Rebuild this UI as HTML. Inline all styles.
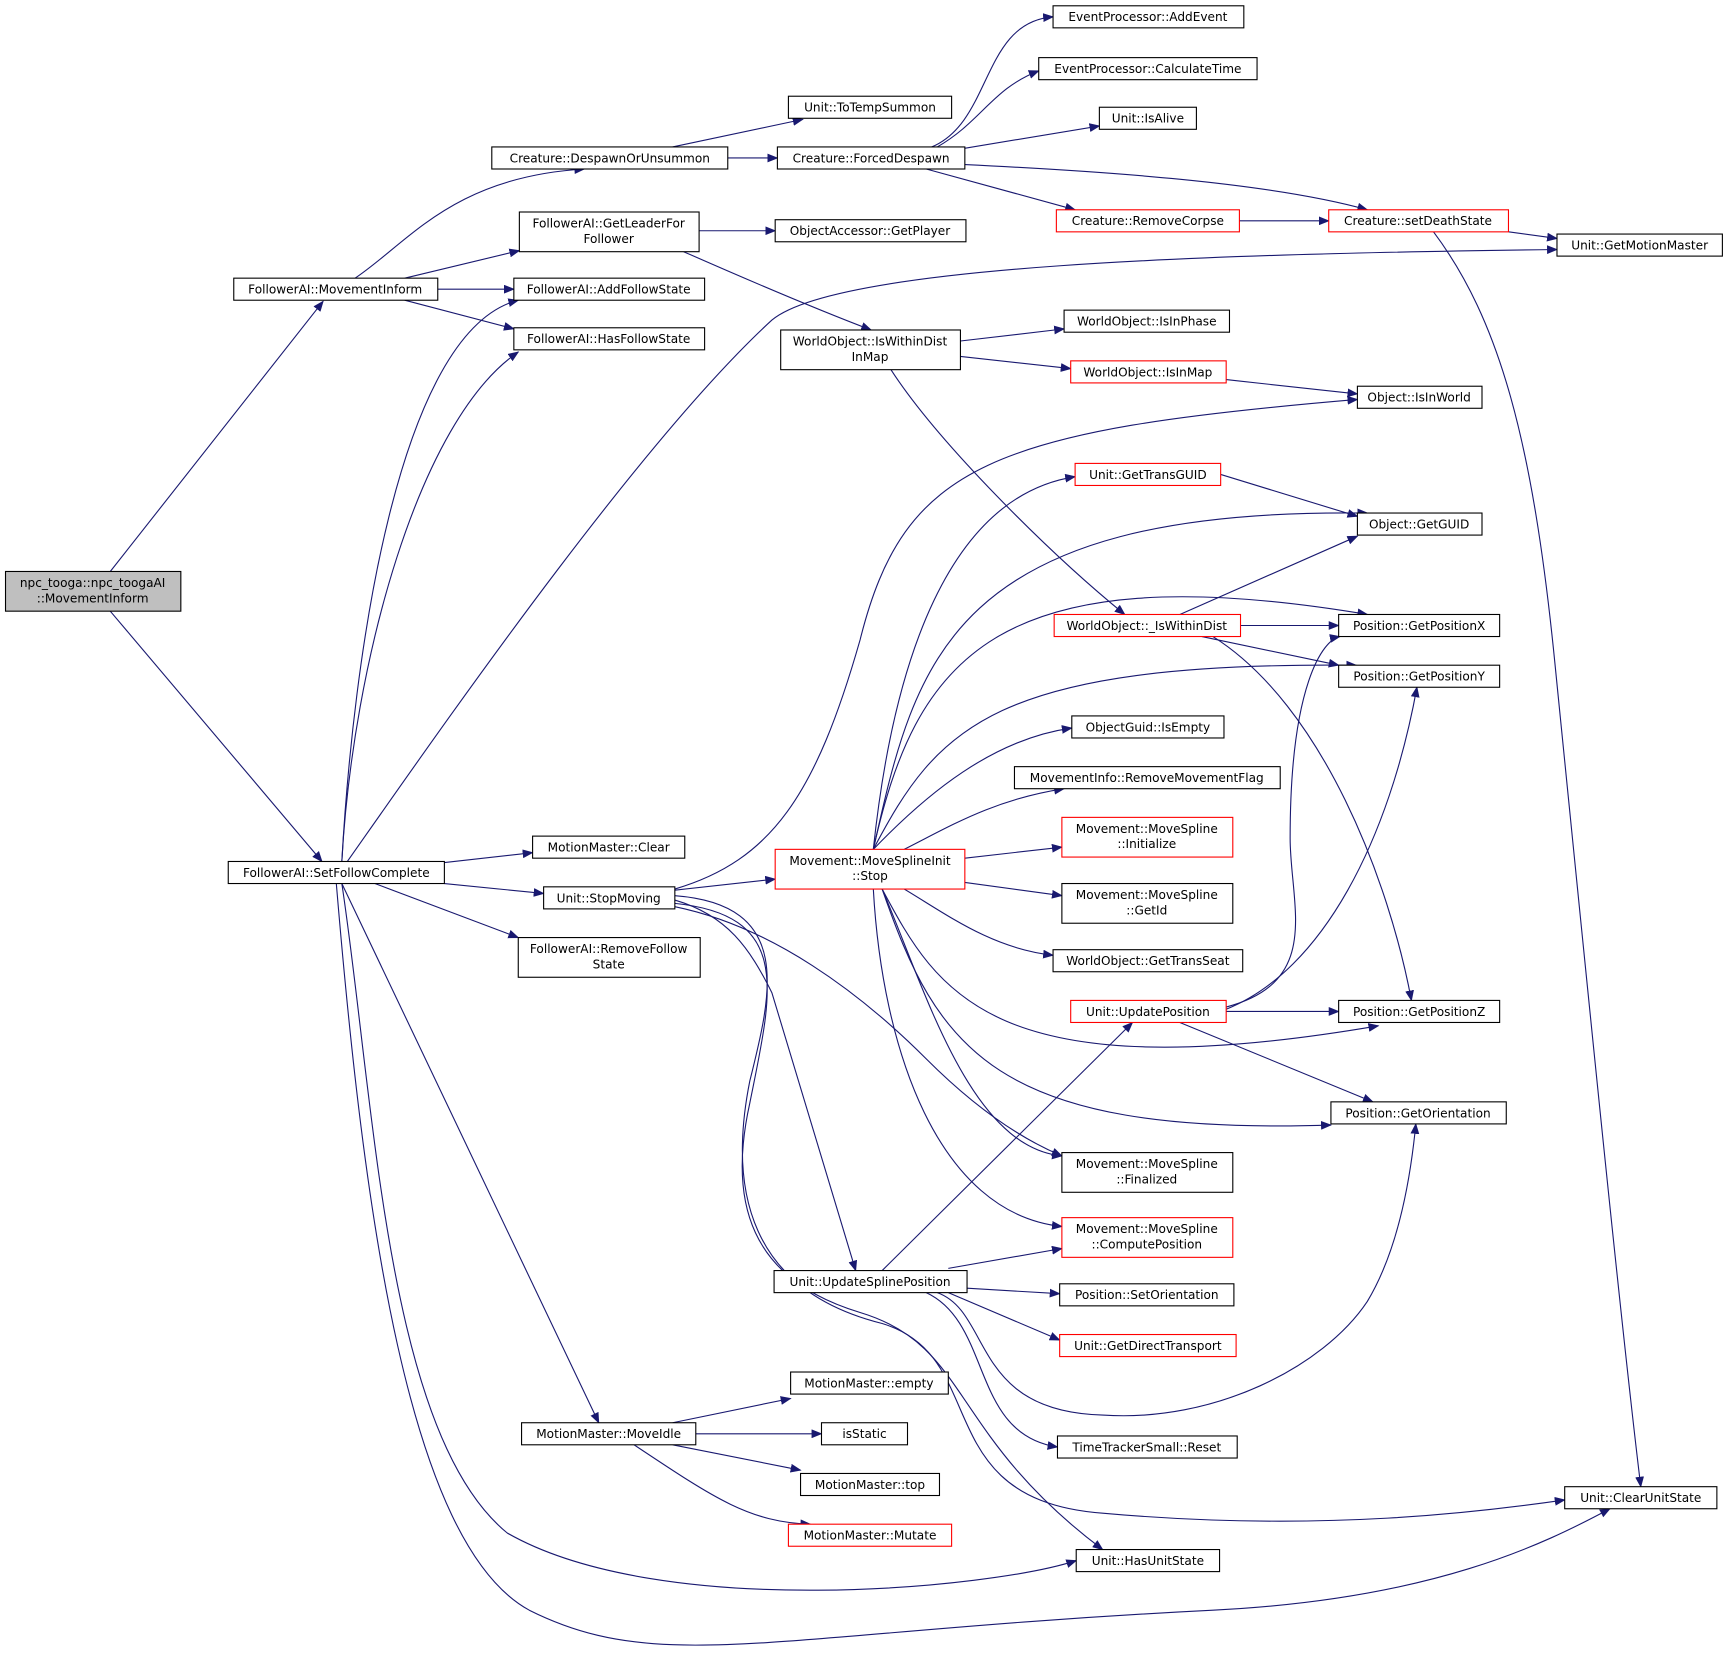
<!DOCTYPE html>
<html><head><meta charset="utf-8"><style>
html,body{margin:0;padding:0;background:#fff;width:1729px;height:1659px;overflow:hidden}
text{font-family:"DejaVu Sans","Liberation Sans",sans-serif;font-size:11px;fill:#000}
.n rect{fill:#fff;stroke:#000;stroke-width:1}
.r rect{fill:#fff;stroke:#f00;stroke-width:1}
.e{fill:none;stroke:#191970;stroke-width:1}
</style></head><body>
<svg width="1729" height="1659" viewBox="0 0 1568 1504" xmlns="http://www.w3.org/2000/svg">
<defs><marker id="a" markerWidth="10" markerHeight="8" refX="9" refY="4" orient="auto" markerUnits="userSpaceOnUse"><path d="M0,0 L10,4 L0,8 z" fill="#191970"/></marker></defs>
<g marker-end="url(#a)">
<path class="e" d="M100,518 L293,273"/>
<path class="e" d="M100,554 L292,781"/>
<path class="e" d="M322,252 C370,220 410,160 530,153"/>
<path class="e" d="M367,252 L471,227"/>
<path class="e" d="M397,262 L466,262"/>
<path class="e" d="M367,272 L466,298"/>
<path class="e" d="M610,133 L728,108"/>
<path class="e" d="M660,143 L705,143"/>
<path class="e" d="M845,133 C900,110 890,20 955,15"/>
<path class="e" d="M850,133 C890,110 900,80 942,64"/>
<path class="e" d="M870,135 L997,114"/>
<path class="e" d="M875,149 C1000,155 1150,165 1240,190"/>
<path class="e" d="M840,153 L975,190"/>
<path class="e" d="M1124,200 L1205,200"/>
<path class="e" d="M1368,210 L1412,216"/>
<path class="e" d="M1300,210 C1360,290 1390,400 1410,600 C1440,900 1470,1200 1488,1348"/>
<path class="e" d="M634,209 L703,209"/>
<path class="e" d="M620,228 C670,250 740,280 790,299"/>
<path class="e" d="M871,309 L965,298"/>
<path class="e" d="M871,323 L971,334"/>
<path class="e" d="M1112,344 L1231,357"/>
<path class="e" d="M808,335 C850,400 950,500 1020,557"/>
<path class="e" d="M310,781 C320,600 360,300 470,272"/>
<path class="e" d="M310,781 C320,600 380,380 470,319"/>
<path class="e" d="M315,781 C400,660 580,400 700,290 C760,240 1100,230 1412,226"/>
<path class="e" d="M403,782 L483,773"/>
<path class="e" d="M403,801 L493,810"/>
<path class="e" d="M340,801 L470,850"/>
<path class="e" d="M310,801 L543,1290"/>
<path class="e" d="M310,801 C340,1000 350,1300 460,1390 C600,1470 900,1440 976,1415"/>
<path class="e" d="M305,801 C330,1100 370,1400 480,1460 C600,1520 700,1480 1100,1460 C1300,1450 1400,1400 1460,1368"/>
<path class="e" d="M612,807 L703,797"/>
<path class="e" d="M612,806 C700,780 740,720 780,580 C820,420 900,390 1231,362"/>
<path class="e" d="M612,816 C660,830 680,860 700,900 L776,1152"/>
<path class="e" d="M612,822 C700,840 780,900 840,960 C880,1000 920,1030 963,1048"/>
<path class="e" d="M612,819 C720,830 700,900 680,1000 C660,1090 680,1160 780,1190 C880,1220 860,1300 1000,1405"/>
<path class="e" d="M612,812 C720,820 700,900 680,980 C660,1080 680,1170 800,1200 C900,1230 840,1360 1000,1372 C1200,1390 1350,1370 1419,1360"/>
<path class="e" d="M792,770 C810,600 860,450 975,432"/>
<path class="e" d="M792,770 C830,600 860,460 1240,465"/>
<path class="e" d="M792,770 C830,600 900,500 1240,557"/>
<path class="e" d="M792,770 C850,660 900,600 1230,603"/>
<path class="e" d="M792,770 C840,720 900,670 972,660"/>
<path class="e" d="M820,770 C860,750 900,725 965,715"/>
<path class="e" d="M875,778 L963,768"/>
<path class="e" d="M875,800 L963,812"/>
<path class="e" d="M820,806 C860,830 900,860 955,866"/>
<path class="e" d="M800,806 C850,900 900,990 1250,930"/>
<path class="e" d="M800,806 C850,950 900,1030 1207,1020"/>
<path class="e" d="M800,806 C840,900 880,1040 963,1048"/>
<path class="e" d="M792,806 C800,950 850,1100 963,1112"/>
<path class="e" d="M1107,430 L1231,468"/>
<path class="e" d="M1070,557 L1231,486"/>
<path class="e" d="M1125,567 L1214,567"/>
<path class="e" d="M1090,577 L1214,603"/>
<path class="e" d="M1100,577 C1200,640 1260,800 1280,907"/>
<path class="e" d="M1112,913 C1200,890 1170,820 1170,760 C1170,620 1200,580 1215,577"/>
<path class="e" d="M1112,915 C1200,880 1260,760 1285,623"/>
<path class="e" d="M1112,917 L1214,917"/>
<path class="e" d="M1070,927 L1245,999"/>
<path class="e" d="M800,1152 L1027,927"/>
<path class="e" d="M860,1150 L963,1132"/>
<path class="e" d="M877,1168 L961,1173"/>
<path class="e" d="M860,1172 L961,1215"/>
<path class="e" d="M850,1172 C900,1190 880,1280 1000,1283 C1100,1290 1200,1240 1240,1180 C1270,1130 1280,1060 1284,1019"/>
<path class="e" d="M840,1172 C900,1200 880,1300 959,1312"/>
<path class="e" d="M610,1290 L717,1268"/>
<path class="e" d="M631,1300 L745,1300"/>
<path class="e" d="M610,1310 L726,1333"/>
<path class="e" d="M575,1310 C650,1360 680,1380 735,1382"/>
</g>
<g class="n"><rect x="5" y="518" width="159" height="36" style="fill:#bfbfbf"/><text x="84" y="532" text-anchor="middle">npc_tooga::npc_toogaAI</text><text x="84" y="546" text-anchor="middle">::MovementInform</text></g>
<g font-size="11">
<g class="n"><rect x="212" y="252" width="185" height="20"/><text x="304" y="266" text-anchor="middle">FollowerAI::MovementInform</text></g>
<g class="n"><rect x="207" y="781" width="196" height="20"/><text x="305" y="795" text-anchor="middle">FollowerAI::SetFollowComplete</text></g>
<g class="n"><rect x="446" y="133" width="214" height="20"/><text x="553" y="147" text-anchor="middle">Creature::DespawnOrUnsummon</text></g>
<g class="n"><rect x="471" y="192" width="163" height="36"/><text x="552" y="206" text-anchor="middle">FollowerAI::GetLeaderFor</text><text x="552" y="220" text-anchor="middle">Follower</text></g>
<g class="n"><rect x="466" y="252" width="173" height="20"/><text x="552" y="266" text-anchor="middle">FollowerAI::AddFollowState</text></g>
<g class="n"><rect x="466" y="297" width="173" height="20"/><text x="552" y="311" text-anchor="middle">FollowerAI::HasFollowState</text></g>
<g class="n"><rect x="715" y="87" width="148" height="20"/><text x="789" y="101" text-anchor="middle">Unit::ToTempSummon</text></g>
<g class="n"><rect x="705" y="133" width="170" height="20"/><text x="790" y="147" text-anchor="middle">Creature::ForcedDespawn</text></g>
<g class="n"><rect x="703" y="199" width="173" height="20"/><text x="789" y="213" text-anchor="middle">ObjectAccessor::GetPlayer</text></g>
<g class="n"><rect x="708" y="299" width="163" height="36"/><text x="789" y="313" text-anchor="middle">WorldObject::IsWithinDist</text><text x="789" y="327" text-anchor="middle">InMap</text></g>
<g class="n"><rect x="955" y="5" width="173" height="20"/><text x="1041" y="19" text-anchor="middle">EventProcessor::AddEvent</text></g>
<g class="n"><rect x="942" y="52" width="198" height="20"/><text x="1041" y="66" text-anchor="middle">EventProcessor::CalculateTime</text></g>
<g class="n"><rect x="997" y="97" width="88" height="20"/><text x="1041" y="111" text-anchor="middle">Unit::IsAlive</text></g>
<g class="r"><rect x="958" y="190" width="166" height="20"/><text x="1041" y="204" text-anchor="middle">Creature::RemoveCorpse</text></g>
<g class="r"><rect x="1205" y="190" width="163" height="20"/><text x="1286" y="204" text-anchor="middle">Creature::setDeathState</text></g>
<g class="n"><rect x="1412" y="212" width="150" height="20"/><text x="1487" y="226" text-anchor="middle">Unit::GetMotionMaster</text></g>
<g class="n"><rect x="965" y="281" width="150" height="20"/><text x="1040" y="295" text-anchor="middle">WorldObject::IsInPhase</text></g>
<g class="r"><rect x="971" y="327" width="141" height="20"/><text x="1041" y="341" text-anchor="middle">WorldObject::IsInMap</text></g>
<g class="n"><rect x="1231" y="350" width="113" height="20"/><text x="1287" y="364" text-anchor="middle">Object::IsInWorld</text></g>
<g class="r"><rect x="975" y="420" width="132" height="20"/><text x="1041" y="434" text-anchor="middle">Unit::GetTransGUID</text></g>
<g class="n"><rect x="1231" y="465" width="113" height="20"/><text x="1287" y="479" text-anchor="middle">Object::GetGUID</text></g>
<g class="r"><rect x="956" y="557" width="169" height="20"/><text x="1040" y="571" text-anchor="middle">WorldObject::_IsWithinDist</text></g>
<g class="n"><rect x="1214" y="557" width="146" height="20"/><text x="1287" y="571" text-anchor="middle">Position::GetPositionX</text></g>
<g class="n"><rect x="1214" y="603" width="146" height="20"/><text x="1287" y="617" text-anchor="middle">Position::GetPositionY</text></g>
<g class="n"><rect x="972" y="649" width="138" height="20"/><text x="1041" y="663" text-anchor="middle">ObjectGuid::IsEmpty</text></g>
<g class="n"><rect x="920" y="695" width="241" height="20"/><text x="1040" y="709" text-anchor="middle">MovementInfo::RemoveMovementFlag</text></g>
<g class="r"><rect x="963" y="741" width="155" height="36"/><text x="1040" y="755" text-anchor="middle">Movement::MoveSpline</text><text x="1040" y="769" text-anchor="middle">::Initialize</text></g>
<g class="n"><rect x="963" y="801" width="155" height="36"/><text x="1040" y="815" text-anchor="middle">Movement::MoveSpline</text><text x="1040" y="829" text-anchor="middle">::GetId</text></g>
<g class="n"><rect x="955" y="861" width="172" height="20"/><text x="1041" y="875" text-anchor="middle">WorldObject::GetTransSeat</text></g>
<g class="r"><rect x="971" y="907" width="141" height="20"/><text x="1041" y="921" text-anchor="middle">Unit::UpdatePosition</text></g>
<g class="n"><rect x="1214" y="907" width="146" height="20"/><text x="1287" y="921" text-anchor="middle">Position::GetPositionZ</text></g>
<g class="n"><rect x="1207" y="999" width="159" height="20"/><text x="1286" y="1013" text-anchor="middle">Position::GetOrientation</text></g>
<g class="n"><rect x="963" y="1045" width="155" height="36"/><text x="1040" y="1059" text-anchor="middle">Movement::MoveSpline</text><text x="1040" y="1073" text-anchor="middle">::Finalized</text></g>
<g class="r"><rect x="963" y="1104" width="155" height="36"/><text x="1040" y="1118" text-anchor="middle">Movement::MoveSpline</text><text x="1040" y="1132" text-anchor="middle">::ComputePosition</text></g>
<g class="n"><rect x="961" y="1164" width="158" height="20"/><text x="1040" y="1178" text-anchor="middle">Position::SetOrientation</text></g>
<g class="r"><rect x="961" y="1210" width="160" height="20"/><text x="1041" y="1224" text-anchor="middle">Unit::GetDirectTransport</text></g>
<g class="n"><rect x="959" y="1302" width="163" height="20"/><text x="1040" y="1316" text-anchor="middle">TimeTrackerSmall::Reset</text></g>
<g class="n"><rect x="1419" y="1348" width="138" height="20"/><text x="1488" y="1362" text-anchor="middle">Unit::ClearUnitState</text></g>
<g class="n"><rect x="976" y="1405" width="130" height="20"/><text x="1041" y="1419" text-anchor="middle">Unit::HasUnitState</text></g>
<g class="n"><rect x="483" y="758" width="138" height="20"/><text x="552" y="772" text-anchor="middle">MotionMaster::Clear</text></g>
<g class="n"><rect x="493" y="804" width="119" height="20"/><text x="552" y="818" text-anchor="middle">Unit::StopMoving</text></g>
<g class="n"><rect x="470" y="850" width="165" height="36"/><text x="552" y="864" text-anchor="middle">FollowerAI::RemoveFollow</text><text x="552" y="878" text-anchor="middle">State</text></g>
<g class="r"><rect x="703" y="770" width="172" height="36"/><text x="789" y="784" text-anchor="middle">Movement::MoveSplineInit</text><text x="789" y="798" text-anchor="middle">::Stop</text></g>
<g class="n"><rect x="702" y="1152" width="175" height="20"/><text x="789" y="1166" text-anchor="middle">Unit::UpdateSplinePosition</text></g>
<g class="n"><rect x="717" y="1244" width="143" height="20"/><text x="788" y="1258" text-anchor="middle">MotionMaster::empty</text></g>
<g class="n"><rect x="473" y="1290" width="158" height="20"/><text x="552" y="1304" text-anchor="middle">MotionMaster::MoveIdle</text></g>
<g class="n"><rect x="745" y="1290" width="78" height="20"/><text x="784" y="1304" text-anchor="middle">isStatic</text></g>
<g class="n"><rect x="726" y="1336" width="126" height="20"/><text x="789" y="1350" text-anchor="middle">MotionMaster::top</text></g>
<g class="r"><rect x="715" y="1382" width="148" height="20"/><text x="789" y="1396" text-anchor="middle">MotionMaster::Mutate</text></g>
</g>
</svg>
</body></html>
